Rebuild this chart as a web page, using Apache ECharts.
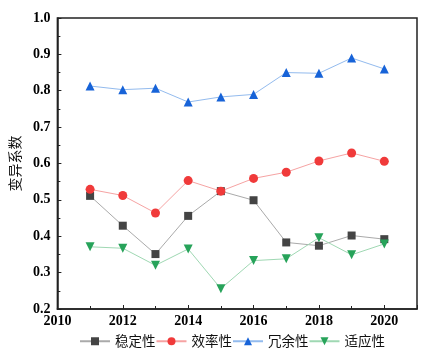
<!DOCTYPE html>
<html>
<head>
<meta charset="utf-8">
<script src="https://cdn.jsdelivr.net/npm/echarts@6/dist/echarts.min.js"></script>
<style>
  html, body { margin: 0; padding: 0; background: #fff; }
  #chart { width: 429px; height: 359px; }
</style>
</head>
<body>
<div id="chart"></div>
<script>
const years = [2011, 2012, 2013, 2014, 2015, 2016, 2017, 2018, 2019, 2020]
const stability = [0.511, 0.429, 0.351, 0.456, 0.524, 0.499, 0.383, 0.374, 0.402, 0.392]
const efficiency = [0.529, 0.512, 0.464, 0.553, 0.524, 0.559, 0.576, 0.607, 0.629, 0.606]
const redundancy = [0.813, 0.803, 0.807, 0.769, 0.783, 0.790, 0.850, 0.848, 0.890, 0.860]
const adaptability = [0.371, 0.367, 0.320, 0.365, 0.256, 0.333, 0.338, 0.396, 0.349, 0.379]
const seriesNames = ['稳定性', '效率性', '冗余性', '适应性']

const serif = '"Liberation Serif", "DejaVu Serif", serif'
const cjk = '"Noto Sans CJK SC", sans-serif'

function makeSeries(name, values, symbol, markerColor, lineColor, size) {
  return {
    name: name,
    type: 'line',
    data: years.map((y, i) => [y, values[i]]),
    symbol: symbol,
    symbolSize: size,
    itemStyle: { color: markerColor },
    lineStyle: { color: lineColor, width: 1 },
    emphasis: { disabled: true }
  }
}

const chart = echarts.init(document.getElementById('chart'), null, { renderer: 'canvas' })
chart.setOption({
  animation: false,
  backgroundColor: '#fff',
  grid: { left: 52, right: 12, top: 18, bottom: 50, show: true, borderColor: '#222', borderWidth: 1.5, backgroundColor: 'transparent' },
  legend: {
    bottom: 6,
    left: 74,
    itemWidth: 30,
    itemHeight: 10,
    itemGap: 0,
    textStyle: { fontFamily: cjk, fontSize: 13.5, color: '#111' },
    data: seriesNames
  },
  xAxis: {
    type: 'value',
    min: 2010,
    max: 2021,
    interval: 2,
    axisLine: { lineStyle: { color: '#222', width: 1.5 } },
    axisTick: { inside: true, length: 4, lineStyle: { color: '#222' } },
    minorTick: { show: true, splitNumber: 2, length: 3, lineStyle: { color: '#222' } },
    splitLine: { show: false },
    axisLabel: { showMaxLabel: false, color: '#000', fontFamily: serif, fontSize: 14, fontWeight: 'bold', margin: 5, formatter: v => String(v) }
  },
  yAxis: {
    type: 'value',
    min: 0.2,
    max: 1.0,
    interval: 0.1,
    name: '变异系数',
    nameLocation: 'middle',
    nameGap: 31,
    nameTextStyle: { fontFamily: cjk, fontSize: 14, color: '#111' },
    axisLine: { show: true, lineStyle: { color: '#222', width: 1.5 } },
    axisTick: { inside: true, length: 4, lineStyle: { color: '#222' } },
    minorTick: { show: true, splitNumber: 2, length: 3, lineStyle: { color: '#222' } },
    splitLine: { show: false },
    axisLabel: { color: '#000', fontFamily: serif, fontSize: 14, fontWeight: 'bold', margin: 7, formatter: v => v.toFixed(1) }
  },
  series: [
    makeSeries(seriesNames[0], stability, 'rect', '#444444', '#aaaaaa', 8),
    makeSeries(seriesNames[1], efficiency, 'circle', '#f03a3a', '#f6a3a3', 9),
    makeSeries(seriesNames[2], redundancy, 'triangle', '#1763d8', '#93bbee', 9),
    Object.assign(makeSeries(seriesNames[3], adaptability, 'triangle', '#27a35a', '#9fd8b3', 9), { symbolRotate: 180 })
  ]
})
</script>
</body>
</html>
